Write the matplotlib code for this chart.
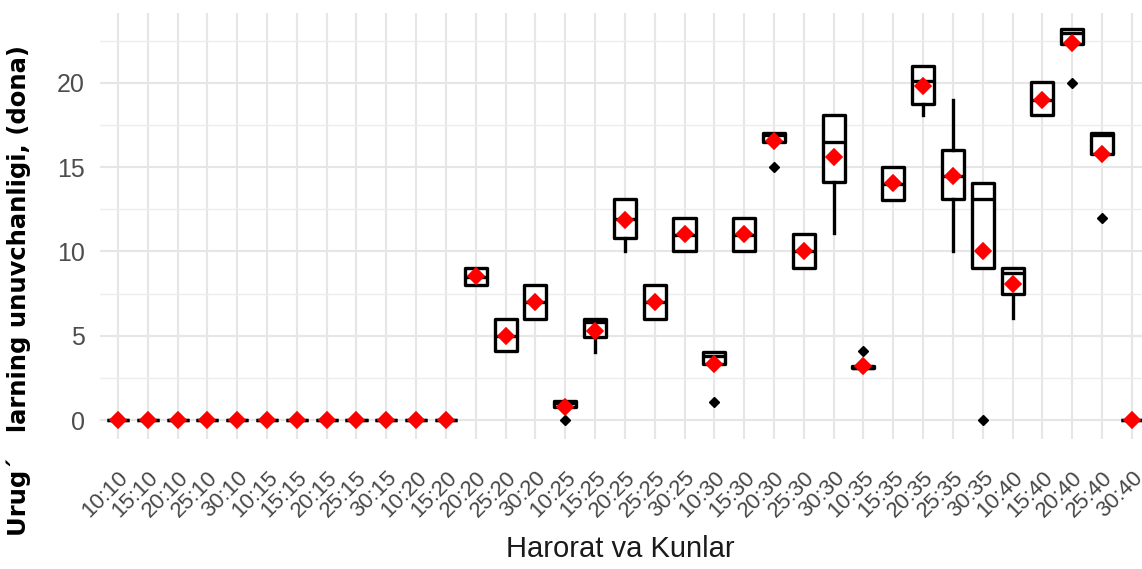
import matplotlib
matplotlib.use("Agg")
import matplotlib.pyplot as plt
from matplotlib.ticker import MultipleLocator

# ---- data ----
categories = ["10:10", "15:10", "20:10", "25:10", "30:10",
              "10:15", "15:15", "20:15", "25:15", "30:15",
              "10:20", "15:20", "20:20", "25:20", "30:20",
              "10:25", "15:25", "20:25", "25:25", "30:25",
              "10:30", "15:30", "20:30", "25:30", "30:30",
              "10:35", "15:35", "20:35", "25:35", "30:35",
              "10:40", "15:40", "20:40", "25:40", "30:40"]

q1 = [0, 0, 0, 0, 0, 0, 0, 0, 0, 0, 0, 0,
      8.0, 4.1, 6.0, 0.8, 4.9, 10.8, 6.0, 10.0, 3.3, 10.0, 16.5, 9.0, 14.1,
      3.1, 13.05, 18.75, 13.1, 9.0, 7.5, 18.1, 22.3, 15.8, 0]
medians = [0, 0, 0, 0, 0, 0, 0, 0, 0, 0, 0, 0,
           8.5, 5.0, 7.0, 1.0, 5.8, 11.9, 7.0, 11.0, 3.8, 11.0, 16.9, 10.0, 16.5,
           3.1, 14.0, 20.1, 14.5, 13.1, 8.75, 19.0, 22.95, 16.9, 0]
q3 = [0, 0, 0, 0, 0, 0, 0, 0, 0, 0, 0, 0,
      9.0, 6.0, 8.0, 1.1, 6.0, 13.1, 8.0, 12.0, 4.05, 12.0, 17.05, 11.05, 18.1,
      3.2, 15.0, 21.0, 16.05, 14.05, 9.0, 20.05, 23.2, 17.05, 0]
whisk_lo = [0, 0, 0, 0, 0, 0, 0, 0, 0, 0, 0, 0,
            8.0, 4.1, 6.0, 0.8, 4.05, 10.0, 6.0, 10.0, 3.3, 10.0, 16.5, 9.0, 11.1,
            3.1, 13.05, 18.1, 10.05, 9.0, 6.05, 18.1, 22.3, 15.8, 0]
whisk_hi = [0, 0, 0, 0, 0, 0, 0, 0, 0, 0, 0, 0,
            9.0, 6.0, 8.0, 1.1, 6.0, 13.1, 8.0, 12.0, 4.05, 12.0, 17.05, 11.05, 18.1,
            3.2, 15.0, 21.0, 19.0, 14.05, 9.0, 20.05, 23.2, 17.05, 0]
outliers = [[], [], [], [], [], [], [], [], [], [], [], [],
            [], [], [], [0.0], [], [], [], [], [1.05], [], [15.0], [], [],
            [4.1], [], [], [], [0.0], [], [], [20.0], [12.0], []]
means = [0, 0, 0, 0, 0, 0, 0, 0, 0, 0, 0, 0,
         8.55, 5.0, 7.0, 0.8, 5.3, 11.85, 7.0, 11.05, 3.3, 11.05, 16.55, 10.0, 15.6,
         3.2, 14.05, 19.8, 14.5, 10.05, 8.1, 19.0, 22.35, 15.8, 0]

# ---- figure ----
W, H = 1142, 569
fig = plt.figure(figsize=(W / 100, H / 100), dpi=100)
ax = fig.add_axes([100 / W, 1 - 439.4 / H, 1 - 100 / W, (439.4 - 13) / H])

stats = []
for i, lab in enumerate(categories):
    stats.append(dict(label=lab, q1=q1[i], med=medians[i], q3=q3[i],
                      whislo=whisk_lo[i], whishi=whisk_hi[i],
                      fliers=outliers[i], mean=means[i]))

positions = list(range(len(categories)))
lw = 2.4
ax.bxp(stats, positions=positions, widths=0.74, patch_artist=True,
       showcaps=False, showmeans=False,
       boxprops=dict(facecolor="white", edgecolor="black", linewidth=lw,
                     joinstyle="round"),
       medianprops=dict(color="black", linewidth=lw, solid_capstyle="butt"),
       whiskerprops=dict(color="black", linewidth=lw),
       flierprops=dict(marker="D", markerfacecolor="black",
                       markeredgecolor="black", markersize=5.5),
       zorder=3)

ax.plot(positions, means, linestyle="none", marker="D", color="#ff0000",
        markersize=8.5, markeredgewidth=1.2, markeredgecolor="#ff0000",
        zorder=5)

ax.set_xlim(-0.6, 34.34)
ax.set_ylim(-1.15, 24.15)
ax.set_xticks(positions)
ax.set_xticklabels(categories, rotation=45, ha="right", va="top",
                   rotation_mode="anchor", fontsize=16, color="#454545",
                   family="Liberation Sans")
ax.yaxis.set_minor_locator(MultipleLocator(2.5))
ax.set_yticks([0, 5, 10, 15, 20])
ax.set_yticklabels(["0", "5", "10", "15", "20"], fontsize=18,
                   color="#4d4d4d", family="Liberation Sans")
ax.tick_params(axis="both", which="both", length=0)
ax.tick_params(axis="y", pad=11)
ax.tick_params(axis="x", pad=20)

ax.grid(True, which="major", color="#e6e6e6", linewidth=1.5, zorder=0)
ax.grid(True, which="minor", axis="y", color="#ededed", linewidth=1.0, zorder=0)
ax.set_axisbelow(True)
for s in ax.spines.values():
    s.set_visible(False)

fig.text(620 / W, 1 - 549 / H, "Harorat va Kunlar", ha="center", va="center",
         fontsize=21, color="#1a1a1a", family="Liberation Sans")
fig.text(19 / W, 1 - 290 / H, "Urug´   larning unuvchanligi, (dona)",
         rotation=90, ha="center", va="center", fontsize=17.5,
         fontweight="bold", color="black", family="DejaVu Sans")

fig.savefig("out.png", dpi=100)
